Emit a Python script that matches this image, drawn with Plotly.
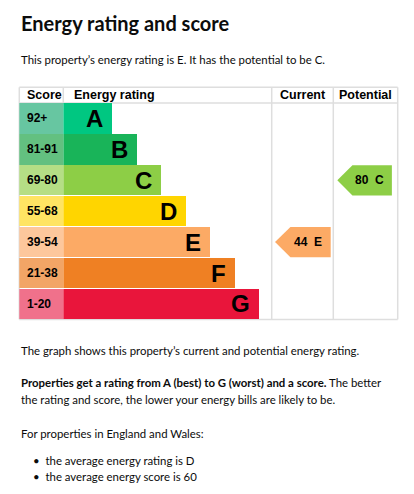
import plotly.graph_objects as go

# EPC bands, best to worst
ratings = ["A", "B", "C", "D", "E", "F", "G"]
score_ranges = ["92+", "81-91", "69-80", "55-68", "39-54", "21-38", "1-20"]
band_min = [92, 81, 69, 55, 39, 21, 1]
bar_units = [2, 3, 4, 5, 6, 7, 8]

current_score = 44
potential_score = 80

band_colours = ["#00c781", "#19b459", "#8dce46", "#ffd500", "#fcaa65", "#ef8023", "#e9153b"]
score_colours = ["#67c6a1", "#63c080", "#b5de85", "#ffe463", "#fdc79c", "#f2a566", "#f0718b"]

W, H = 414, 494
TEXT = "#0b0c0c"
GRID = "#dedede"
CHART_FONT = "Liberation Sans"
BODY_FONT = "Lato"
BODY_SIZE = 11.4

# table geometry (px)
TL, TR = 19.3, 397.7
SCORE_R, RATING_R, CURRENT_R = 63.3, 271.7, 333.3
HEAD_T, HEAD_B, TABLE_B = 87.3, 103.0, 319.4


def px(x):
    return x / W


def py(y):
    return 1 - y / H


def band_of(score):
    for i, lo in enumerate(band_min):
        if score >= lo:
            return i
    return len(band_min) - 1


rows = list(range(len(ratings)))
fig = go.Figure()

# score column
fig.add_trace(go.Bar(
    x=[1] * len(rows), y=rows, orientation="h", width=0.98,
    marker=dict(color=score_colours, line=dict(width=0)),
    xaxis="x", yaxis="y", hoverinfo="skip", showlegend=False,
))

# rating bars
fig.add_trace(go.Bar(
    x=bar_units, y=rows, orientation="h", width=0.98,
    marker=dict(color=band_colours, line=dict(width=0)),
    xaxis="x2", yaxis="y", hoverinfo="skip", showlegend=False,
))


def arrow(score, axis, x0, x1, tip):
    i = band_of(score)
    xs = [x0, x0 + tip, x1, x1, x0 + tip, x0]
    ys = [i, i - 0.49, i - 0.49, i + 0.49, i + 0.49, i]
    fig.add_trace(go.Scatter(
        x=xs, y=ys, mode="lines", fill="toself", fillcolor=band_colours[i],
        line=dict(width=0), xaxis=axis, yaxis="y", hoverinfo="skip", showlegend=False,
    ))
    fig.add_annotation(
        x=(x0 + tip + x1) / 2 - 0.04, y=i, xref=axis, yref="y",
        text="<b>%d\u00a0\u00a0%s</b>" % (score, ratings[i]), showarrow=False,
        font=dict(family=CHART_FONT, size=12, color="#000"),
    )


arrow(current_score, "x3", 0.054, 0.958, 0.25)
arrow(potential_score, "x4", 0.062, 0.91, 0.235)

for i in rows:
    fig.add_annotation(
        x=0.13, y=i, xref="x", yref="y", xanchor="left", text="<b>%s</b>" % score_ranges[i],
        showarrow=False, font=dict(family=CHART_FONT, size=12, color="#000"),
    )
    fig.add_annotation(
        x=bar_units[i], y=i, xref="x2", yref="y", xanchor="right", xshift=-7,
        text="<b>%s</b>" % ratings[i], showarrow=False,
        font=dict(family=CHART_FONT, size=24, color="#000"),
    )

# headers
headers = [("Score", px(24.5), "left"), ("Energy rating", px(72.3), "left"),
           ("Current", px((RATING_R + CURRENT_R) / 2), "center"),
           ("Potential", px((CURRENT_R + TR) / 2), "center")]
for label, hx, anchor in headers:
    fig.add_annotation(
        x=hx, y=py(95.2), xref="paper", yref="paper", xanchor=anchor, yanchor="middle",
        text="<b>%s</b>" % label, showarrow=False,
        font=dict(family=CHART_FONT, size=12.5, color="#000"),
    )

# grid lines
lines = [
    (TL, HEAD_T, TR, HEAD_T), (TL, HEAD_B, TR, HEAD_B), (TL, TABLE_B, TR, TABLE_B),
    (TL, HEAD_T, TL, TABLE_B), (SCORE_R, HEAD_T, SCORE_R, HEAD_B),
    (RATING_R, HEAD_T, RATING_R, TABLE_B), (CURRENT_R, HEAD_T, CURRENT_R, TABLE_B),
    (TR, HEAD_T, TR, TABLE_B),
]
for x0, y0, x1, y1 in lines:
    fig.add_shape(type="line", xref="paper", yref="paper", x0=px(x0), y0=py(y0),
                  x1=px(x1), y1=py(y1), line=dict(color=GRID, width=1.5), layer="below")

# page text
texts = [
    ("<b>Energy rating and score</b>", 23.5, 20),
    ("This property\u2019s energy rating is E. It has the potential to be C.", 59.5, BODY_SIZE),
    ("The graph shows this property\u2019s current and potential energy rating.", 350, BODY_SIZE),
    ("<b>Properties get a rating from A (best) to G (worst) and a score.</b> The better", 382.5, BODY_SIZE),
    ("the rating and score, the lower your energy bills are likely to be.", 399, BODY_SIZE),
    ("For properties in England and Wales:", 433, BODY_SIZE),
]
for t, y, size in texts:
    fig.add_annotation(
        x=px(19), y=py(y), xref="paper", yref="paper", xanchor="left", yanchor="middle",
        text=t, showarrow=False, font=dict(family=BODY_FONT, size=size, color=TEXT),
    )

bullets = [("the average energy rating is D", 460), ("the average energy score is 60", 476)]
for t, y in bullets:
    fig.add_annotation(
        x=px(31), y=py(y), xref="paper", yref="paper", xanchor="left", yanchor="middle",
        text="\u2022\u00a0\u00a0" + t, showarrow=False,
        font=dict(family=BODY_FONT, size=BODY_SIZE, color=TEXT),
    )

hidden = dict(showgrid=False, zeroline=False, showticklabels=False, ticks="", fixedrange=True)
fig.update_layout(
    width=W, height=H, margin=dict(l=0, r=0, t=0, b=0),
    paper_bgcolor="white", plot_bgcolor="rgba(0,0,0,0)",
    barmode="overlay", bargap=0,
    xaxis=dict(domain=[px(TL), px(SCORE_R)], range=[0, 1], anchor="y", **hidden),
    xaxis2=dict(domain=[px(SCORE_R), px(RATING_R)], range=[0, 8.5], anchor="y", **hidden),
    xaxis3=dict(domain=[px(RATING_R), px(CURRENT_R)], range=[0, 1], anchor="y", **hidden),
    xaxis4=dict(domain=[px(CURRENT_R), px(TR)], range=[0, 1], anchor="y", **hidden),
    yaxis=dict(domain=[py(TABLE_B), py(HEAD_B)], range=[6.5, -0.5], **hidden),
)

fig.write_html("out.html", config={"displayModeBar": False},
               post_script="document.body.style.margin='0';")
